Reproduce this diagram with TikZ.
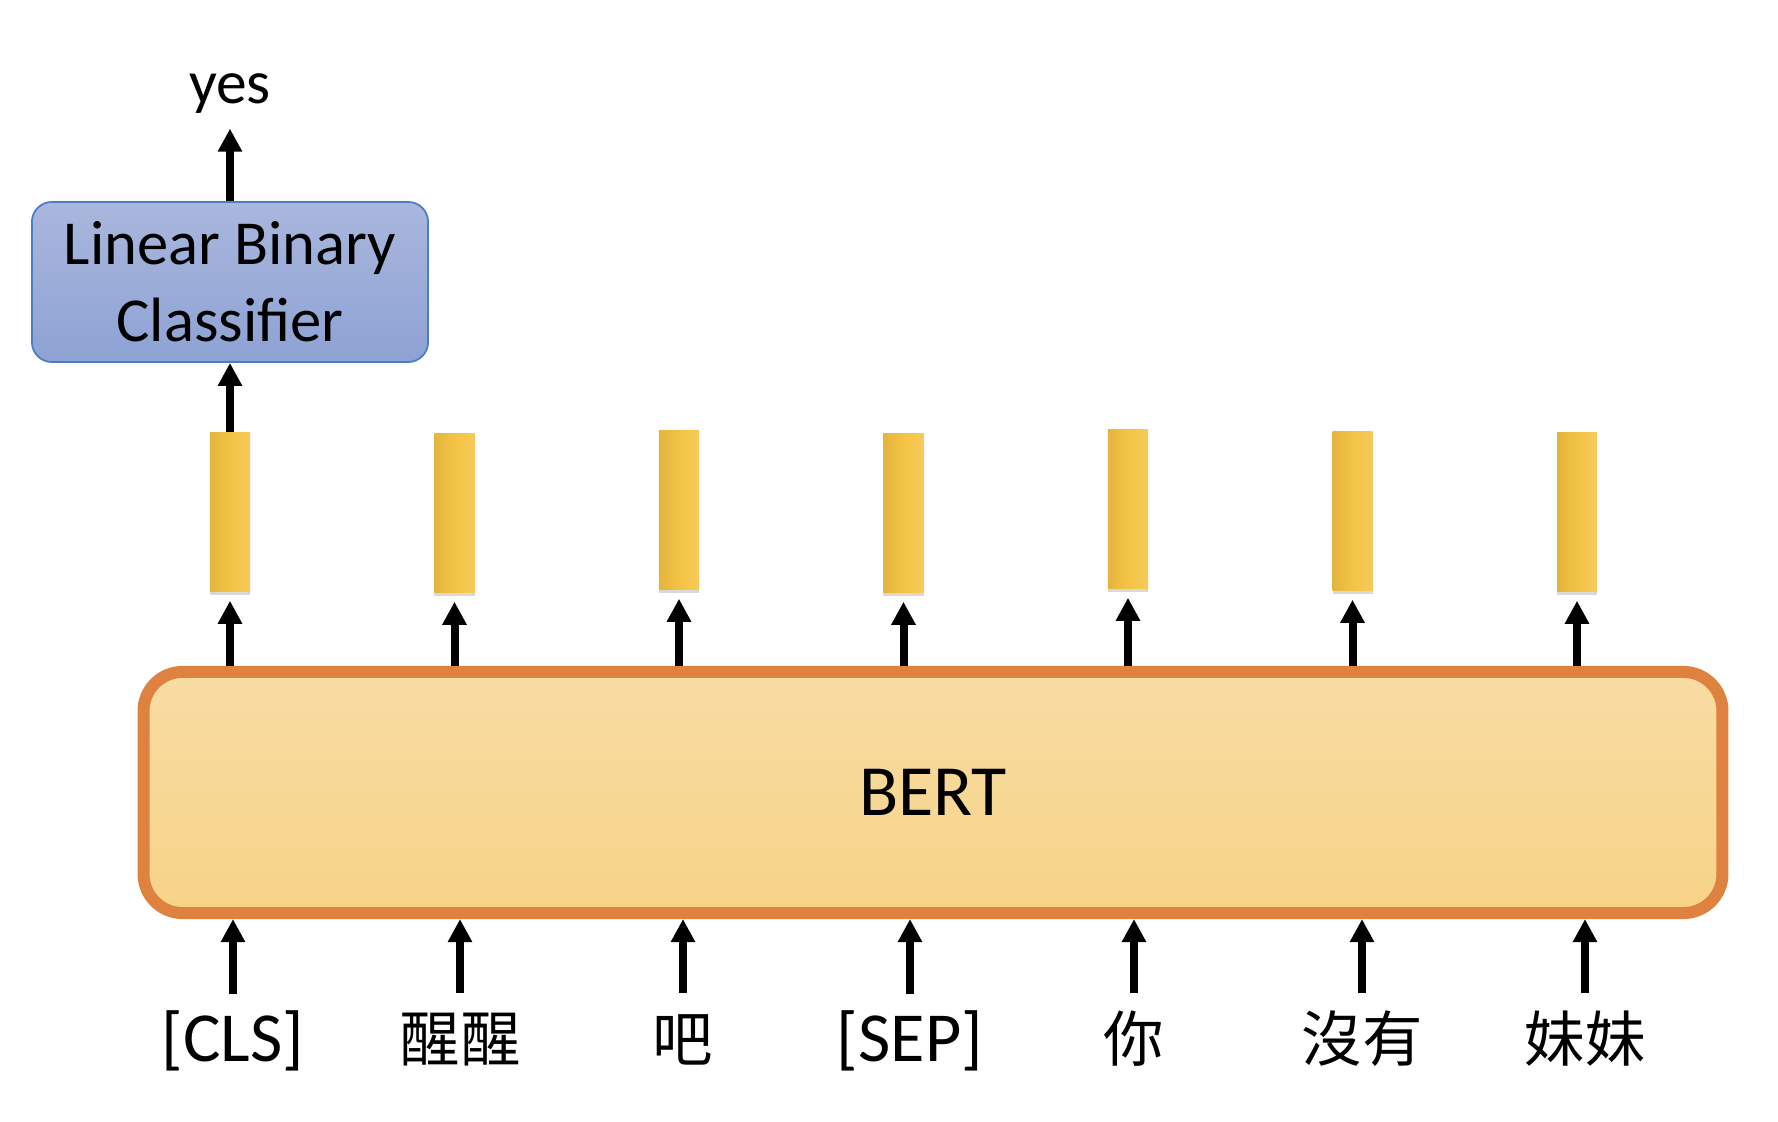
\documentclass[tikz,border=0pt]{standalone}
\usepackage{fontspec}
\setmainfont{Carlito}
\newfontfamily\cjk{Noto Sans CJK TC}
\usetikzlibrary{arrows.meta,shadows}

\definecolor{clsTop}{HTML}{AAB7DD}
\definecolor{clsBot}{HTML}{8DA2D4}
\definecolor{clsLine}{HTML}{4A7EC6}
\definecolor{bertTop}{HTML}{F8DCA3}
\definecolor{bertBot}{HTML}{F7D387}
\definecolor{bertLine}{HTML}{E0823F}
\definecolor{barL}{HTML}{E3B53D}
\definecolor{barM}{HTML}{F3C443}
\definecolor{barR}{HTML}{F6CA5C}

\tikzset{
  arr/.style={line width=0.08cm,-{Triangle[length=0.23cm,width=0.23cm]}},
  vecbar/.style={minimum width=0.4cm,minimum height=1.58cm,inner sep=0pt,
    left color=barL,right color=barR,middle color=barM,
    drop shadow={shadow xshift=0pt,shadow yshift=-1pt,opacity=0.3}},
  tok/.style={anchor=base,inner sep=0pt,text height=0.6cm,outer ysep=0.08cm,
    font=\fontsize{20}{24}\selectfont},
  tokzh/.style={tok,font=\cjk\fontsize{17.2}{21}\selectfont}
}

\begin{document}
\begin{tikzpicture}[x=0.01cm,y=-0.01cm]
\useasboundingbox (0,0) rectangle (1778,1122);
% ---------- BERT ----------
\node[draw=bertLine,line width=0.12cm,rounded corners=0.39cm,
  top color=bertTop,bottom color=bertBot,
  minimum width=15.78cm,minimum height=2.41cm,
  font=\fontsize{20.5}{24}\selectfont] (bert) at (933,792.5) {BERT};
% input tokens
\node[tok] (t1) at (233,1062) {[CLS]};
\node[tokzh] (t2) at (460,1061) {醒醒};
\node[tokzh] (t3) at (683,1061) {吧};
\node[tok] (t4) at (910,1062) {[SEP]};
\node[tokzh] (t5) at (1134,1061) {你};
\node[tokzh] (t6) at (1362,1061) {沒有};
\node[tokzh] (t7) at (1585,1061) {妹妹};
\draw[arr] (t1.north) -- (t1.north |- bert.south);
\draw[arr] (t2.north) -- (t2.north |- bert.south);
\draw[arr] (t3.north) -- (t3.north |- bert.south);
\draw[arr] (t4.north) -- (t4.north |- bert.south);
\draw[arr] (t5.north) -- (t5.north |- bert.south);
\draw[arr] (t6.north) -- (t6.north |- bert.south);
\draw[arr] (t7.north) -- (t7.north |- bert.south);
% ---------- output vectors ----------
\node[vecbar] (h1) at (230,512) {};
\node[vecbar] (h2) at (454.5,513) {};
\node[vecbar] (h3) at (679,510) {};
\node[vecbar] (h4) at (903.5,513) {};
\node[vecbar] (h5) at (1128,509) {};
\node[vecbar] (h6) at (1352.5,511) {};
\node[vecbar] (h7) at (1577,512) {};
\draw[arr,shorten >=0.09cm] (bert.north -| h1) -- (h1.south);
\draw[arr,shorten >=0.09cm] (bert.north -| h2) -- (h2.south);
\draw[arr,shorten >=0.09cm] (bert.north -| h3) -- (h3.south);
\draw[arr,shorten >=0.09cm] (bert.north -| h4) -- (h4.south);
\draw[arr,shorten >=0.09cm] (bert.north -| h5) -- (h5.south);
\draw[arr,shorten >=0.09cm] (bert.north -| h6) -- (h6.south);
\draw[arr,shorten >=0.09cm] (bert.north -| h7) -- (h7.south);
% ---------- classifier on [CLS] ----------
\node[draw=clsLine,line width=0.5pt,rounded corners=0.2cm,
  top color=clsTop,bottom color=clsBot,
  minimum width=3.96cm,minimum height=1.6cm,align=center,
  font=\fontsize{17.8}{22}\selectfont] (cls) at (230,282)
  {Linear Binary\\Classifier};
\node[anchor=base,inner sep=0pt,font=\fontsize{17.5}{21}\selectfont]
  (yes) at (230,104) {yes};
\draw[arr] (h1.north) -- (cls.south);
\draw[arr,shorten >=0.14cm] (cls.north) -- (yes.south);
\end{tikzpicture}
\end{document}
